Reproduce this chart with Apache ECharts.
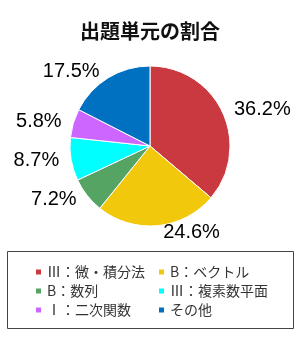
<!DOCTYPE html>
<html><head><meta charset="utf-8">
<script src="https://cdn.jsdelivr.net/npm/echarts@6/dist/echarts.min.js"></script>
<style>html,body{margin:0;padding:0;background:#fff}#c{width:300px;height:340px}</style>
</head><body><div id="c"></div>
<script>
const categories = ['Ⅲ：微・積分法', 'B：ベクトル', 'B：数列', 'Ⅲ：複素数平面', 'Ⅰ：二次関数', 'その他'];
const values = [36.2, 24.6, 7.2, 8.7, 5.8, 17.5];
const colors = ['#C9393F', '#F1C80C', '#56A464', '#00FFFF', '#CC66FF', '#0070C0'];
const titleText = '出題単元の割合';

const chart = echarts.init(document.getElementById('c'));
const data = categories.map((n, i) => ({ name: n, value: values[i], itemStyle: { color: colors[i] } }));
const legendBase = {
  orient: 'vertical', padding: 0, itemWidth: 7, itemHeight: 7, itemGap: 5,
  icon: 'rect',
  textStyle: { fontFamily: 'Noto Sans CJK JP', fontSize: 14, lineHeight: 13.5, color: '#333' }
};
chart.setOption({
  animation: false,
  title: { text: titleText, left: 'center', top: 16,
    textStyle: { fontFamily: 'Noto Sans CJK JP', fontWeight: 'bold', fontSize: 20, color: '#111' } },
  legend: [
    Object.assign({}, legendBase, { left: 34, top: 265, data: [categories[0], categories[2], categories[4]] }),
    Object.assign({}, legendBase, { left: 157, top: 265, data: [categories[1], categories[3], categories[5]] })
  ],
  graphic: [{ type: 'rect', shape: { x: 7.5, y: 251.5, width: 286, height: 77 },
    style: { fill: 'none', stroke: '#444', lineWidth: 1 } }],
  series: [{
    type: 'pie', left: 0, top: 50, width: 300, height: 196,
    center: [150, 96], radius: 80, startAngle: 90, clockwise: true,
    data: data,
    itemStyle: { borderColor: '#fff', borderWidth: 1 },
    label: { show: true, position: 'outside', formatter: p => p.value.toFixed(1) + '%',
      fontFamily: '"Liberation Sans", Arial, sans-serif', fontSize: 20, color: '#000' },
    labelLine: { show: false, length: 7, length2: 0 }
  }]
});
</script></body></html>
